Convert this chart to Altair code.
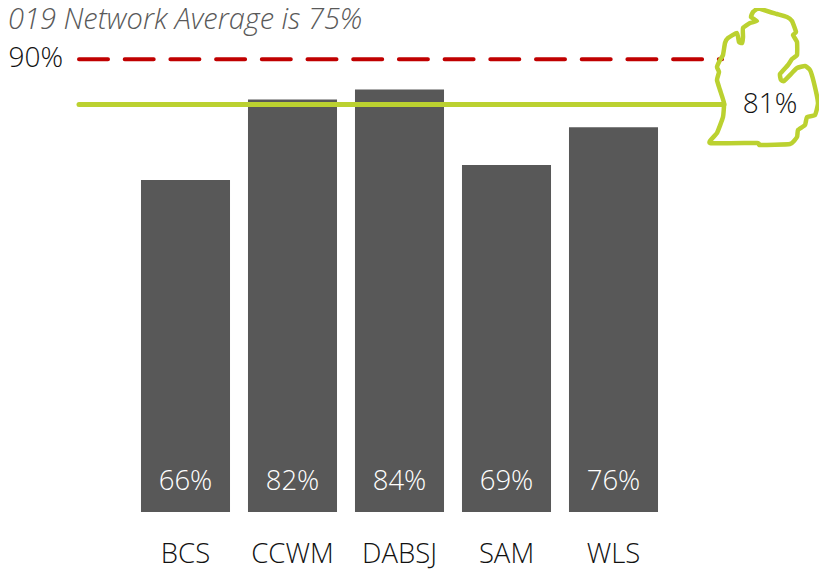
import altair as alt
import pandas as pd

categories = ["BCS", "CCWM", "DABSJ", "SAM", "WLS"]
values = [66, 82, 84, 69, 76.5]
labels = ["66%", "82%", "84%", "69%", "76%"]
target = 90
state_avg = 81
note = "019 Network Average is 75%"

# Outline of Michigan
state_x = [758,770,777,787,792,796,793,797,797,792,788,780,781,784,792,797,805,810,814,818,815,807,805,798,797,790,760,757,710,717,723,724,720,717,719,717,720,723,725,728,737,739,742,743,743,750,757,751,753,758]
state_y = [8,12,14,17,21,32,35,42,55,59,65,74,80,81,73,68,66,70,83,103,115,117,125,130,137,144,145,143,143,133,117,103,90,80,72,67,60,55,43,38,33,42,43,37,28,23,21,17,12,8]

FONT = "Open Sans"
W, H = 535, 504
RED, GREEN, DARK = "#C00000", "#BBD130", "#585858"

bars_df = pd.DataFrame({"cat": categories, "v": values, "label": labels})
state_df = pd.DataFrame({"x": state_x, "y": state_y, "i": range(len(state_x))})

xband = alt.X("cat:N", sort=categories, title=None,
              scale=alt.Scale(paddingInner=0.168, paddingOuter=0.084),
              axis=alt.Axis(domain=False, ticks=False, labelAngle=0, labelFont=FONT,
                            labelFontSize=27.5, labelFontWeight=300, labelColor="#111111",
                            labelPadding=28))
ysc = alt.Scale(domain=[0, 100.2])
yval = alt.Y("v:Q", title=None, scale=ysc, axis=None)

bars = alt.Chart(bars_df).mark_bar(color=DARK).encode(x=xband, y=yval)
bar_text = alt.Chart(bars_df).mark_text(font=FONT, fontSize=27.5, fontWeight=300, color="#FFFFFF", baseline="middle").encode(
    x=alt.X("cat:N", sort=categories, scale=alt.Scale(paddingInner=0.168, paddingOuter=0.084), axis=None),
    y=alt.Y("p:Q", scale=ysc, axis=None),
    text="label:N",
).transform_calculate(p="6")

red = alt.Chart(pd.DataFrame({"v": [target]})).mark_rule(color=RED, strokeWidth=4, strokeDash=[29, 16.7], strokeCap="round").encode(
    x=alt.value(-53), x2=alt.value(590), y=alt.Y("v:Q", scale=ysc, axis=None))
green = alt.Chart(pd.DataFrame({"v": [state_avg]})).mark_rule(color=GREEN, strokeWidth=5, strokeCap="round").encode(
    x=alt.value(-53), x2=alt.value(592), y=alt.Y("v:Q", scale=ysc, axis=None))

outline = alt.Chart(state_df).mark_line(color=GREEN, strokeWidth=4.5, strokeJoin="round", interpolate="cardinal", tension=0.6).encode(
    x=alt.X("x:Q", scale=alt.Scale(domain=[132, 667]), axis=None),
    y=alt.Y("y:Q", scale=alt.Scale(domain=[512, 8]), axis=None),
    order="i:Q")

t90 = alt.Chart(pd.DataFrame({"v": [target], "t": ["90%"]})).mark_text(font=FONT, fontSize=28, fontWeight=300, color="#111111", align="right", baseline="middle").encode(
    x=alt.value(-69), y=alt.Y("v:Q", scale=ysc, axis=None), text="t:N")
t81 = alt.Chart(pd.DataFrame({"v": [state_avg], "t": ["81%"]})).mark_text(font=FONT, fontSize=28, fontWeight=300, color="#111111", align="center", baseline="middle").encode(
    x=alt.value(638), y=alt.Y("v:Q", scale=ysc, axis=None), text="t:N")
tnote = alt.Chart(pd.DataFrame({"t": [note]})).mark_text(font=FONT, fontSize=29, fontWeight=300, fontStyle="italic", color="#595959", align="left", baseline="alphabetic").encode(
    x=alt.value(-124), y=alt.value(21), text="t:N")

chart = alt.layer(bars, bar_text, red, green, outline, t90, t81, tnote).resolve_scale(
    x="independent", y="independent"
).properties(
    width=W, height=H, padding={"left": 124, "top": 0, "right": 152, "bottom": 64},
    autosize=alt.AutoSizeParams(type="none"),
).configure_view(stroke=None)

chart.save("out.html", embed_options={"renderer": "svg", "actions": False})
